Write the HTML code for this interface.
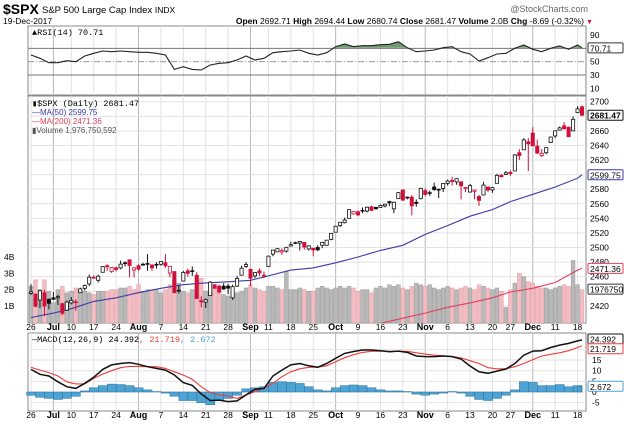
<!DOCTYPE html>
<html><head><meta charset="utf-8"><style>
html,body{margin:0;padding:0;background:#fff;}
svg{display:block;font-family:"Liberation Sans",sans-serif;}
</style></head><body>
<svg id="chart" width="624" height="424" viewBox="0 0 624 424" xmlns="http://www.w3.org/2000/svg">
<defs>
<clipPath id="pclip"><rect x="28" y="96" width="558" height="227"/></clipPath>
<clipPath id="rclip"><rect x="28" y="26" width="558" height="69"/></clipPath>
<clipPath id="above70"><rect x="28" y="26" width="558" height="21.7"/></clipPath>
</defs>
<text x="3" y="14" font-size="14" font-weight="bold">$SPX</text>
<text x="42" y="13" font-size="9.5">S&amp;P 500 Large Cap Index <tspan font-size="8.5">INDX</tspan></text>
<text x="588" y="12" font-size="9" fill="#666" text-anchor="end">@StockCharts.com</text>
<text x="3" y="24" font-size="8.5">19-Dec-2017</text>
<text x="584" y="24" font-size="8.5" text-anchor="end"><tspan font-weight="bold">Open</tspan> 2692.71 <tspan font-weight="bold">High</tspan> 2694.44 <tspan font-weight="bold">Low</tspan> 2680.74 <tspan font-weight="bold">Close</tspan> 2681.47 <tspan font-weight="bold">Volume</tspan> 2.0B <tspan font-weight="bold">Chg</tspan> -8.69 (-0.32%)</text>
<text x="586" y="24" font-size="7" fill="#d0103a">▼</text>
<g id="rsi"></g>
<g id="price"></g>
<g id="macd"></g>
<g id="axes"></g>
</svg>
<script>
const opens=[2437,2436,2428,2438,2429,2431,2431,2423,2414,2424,2425,2438,2444,2450,2459,2455,2466,2475,2467,2472,2472,2479,2483,2469,2475,2477,2478,2476,2476,2477,2479,2465,2467,2441,2454,2468,2468,2462,2427,2425,2434,2449,2447,2447,2447,2431,2447,2462,2474,2470,2461,2468,2462,2474,2491,2494,2494,2495,2502,2506,2506,2507,2498,2499,2500,2503,2503,2511,2521,2530,2534,2540,2546,2549,2551,2550,2556,2555,2555,2557,2563,2553,2567,2579,2568,2569,2562,2567,2578,2575,2583,2579,2581,2588,2592,2590,2590,2581,2576,2577,2570,2572,2583,2579,2588,2599,2600,2603,2605,2630,2634,2645,2657,2639,2626,2630,2644,2653,2661,2667,2665,2660,2685,2693];
const highs=[2450,2437,2442,2442,2430,2439,2435,2424,2427,2432,2429,2445,2449,2463,2462,2463,2474,2477,2473,2474,2482,2481,2484,2473,2477,2479,2491,2477,2480,2481,2491,2475,2467,2448,2468,2471,2474,2466,2433,2430,2454,2449,2449,2451,2450,2449,2461,2475,2480,2471,2466,2471,2467,2489,2497,2499,2499,2501,2508,2508,2509,2507,2503,2499,2503,2508,2510,2520,2530,2535,2541,2552,2549,2551,2555,2556,2557,2556,2559,2560,2564,2563,2576,2579,2570,2572,2566,2582,2581,2578,2589,2581,2588,2593,2597,2595,2591,2583,2587,2579,2572,2590,2583,2583,2601,2601,2605,2606,2628,2635,2650,2650,2665,2648,2635,2637,2652,2661,2666,2672,2666,2680,2694,2695];
const lows=[2435,2418,2417,2406,2415,2428,2421,2407,2413,2422,2413,2438,2441,2447,2457,2452,2466,2468,2465,2467,2470,2474,2459,2459,2468,2475,2468,2468,2471,2475,2472,2459,2437,2437,2454,2460,2461,2430,2418,2417,2434,2444,2437,2442,2436,2428,2446,2462,2472,2447,2458,2461,2458,2474,2488,2494,2490,2493,2502,2505,2496,2497,2496,2488,2495,2499,2503,2510,2521,2528,2533,2540,2545,2543,2547,2548,2550,2552,2555,2555,2557,2547,2567,2564,2566,2544,2556,2566,2571,2571,2578,2568,2576,2585,2585,2586,2566,2576,2576,2566,2557,2572,2576,2575,2588,2596,2600,2598,2605,2620,2634,2605,2639,2628,2624,2628,2644,2650,2661,2662,2652,2660,2686,2680];
const closes=[2439.07,2419.38,2440.69,2419.70,2423.41,2429.01,2432.54,2409.75,2425.18,2427.43,2425.53,2443.25,2447.83,2459.27,2459.14,2460.61,2473.83,2473.45,2472.54,2469.91,2477.13,2477.83,2475.42,2472.10,2470.30,2476.35,2477.57,2472.16,2476.83,2480.91,2474.92,2474.02,2438.21,2441.32,2465.84,2464.61,2468.11,2430.01,2425.55,2428.37,2452.51,2444.04,2438.97,2443.05,2444.24,2446.30,2457.59,2471.65,2476.55,2457.85,2465.54,2465.10,2461.43,2488.11,2496.48,2498.37,2495.62,2500.23,2503.87,2506.65,2508.24,2500.60,2502.22,2496.66,2496.84,2507.04,2510.06,2519.36,2529.12,2534.58,2537.74,2552.07,2549.33,2544.73,2550.64,2555.24,2550.93,2553.17,2557.64,2559.36,2561.26,2562.10,2575.21,2564.98,2569.13,2557.15,2560.40,2581.07,2572.83,2575.26,2579.36,2579.85,2587.84,2591.13,2590.64,2594.38,2584.62,2582.30,2584.84,2578.87,2564.62,2585.64,2578.85,2582.14,2599.03,2597.08,2602.42,2601.42,2627.04,2626.07,2647.58,2642.22,2639.44,2629.57,2629.27,2636.98,2651.50,2659.99,2664.11,2662.85,2652.01,2675.81,2690.16,2681.47];
const volumes=[2.2,2.6,2.0,2.6,1.9,1.2,2.0,2.2,1.8,1.9,2.1,2.0,1.9,1.8,1.7,1.9,1.9,1.9,2.0,2.0,2.1,2.1,2.2,2.0,2.3,1.9,2.0,2.0,2.0,1.8,2.0,2.3,2.6,2.4,1.9,1.8,2.0,2.6,2.7,1.9,1.9,2.1,1.9,1.7,1.6,1.8,1.8,1.9,2.1,2.3,2.1,2.0,1.9,2.2,2.2,2.1,2.0,3.1,2.0,2.0,2.1,2.0,1.9,1.9,2.1,2.2,2.1,2.0,2.1,2.2,2.1,2.2,2.1,1.9,2.0,2.0,1.8,2.1,2.2,2.1,2.3,2.2,2.3,2.1,2.0,2.2,2.4,2.3,2.2,2.3,2.1,2.0,2.1,2.2,2.1,2.0,2.1,2.2,2.1,2.0,2.3,2.2,2.1,2.0,2.1,1.9,0.9,2.0,2.4,3.0,2.8,2.5,2.4,2.2,2.1,2.1,2.0,2.1,2.2,2.3,2.2,3.8,2.3,2.0];
const maDays=[0,5,9,14,19,24,29,34,39,44,49,53,58,63,68,73,78,83,88,93,98,103,107,112,117,122,123];
const ma50=[2404,2410,2416,2426,2431,2438,2444,2449,2451.5,2453,2455,2461,2469,2472,2479,2487,2496,2503,2518,2530,2543,2552,2563,2573,2583,2595,2599.75];
const ma200=[2350,2354,2357,2360,2363,2366,2369,2372,2375,2378,2381,2384,2386,2388,2390,2393,2396,2403,2410,2418,2424,2431,2439,2444,2452,2469,2471.36];
const rsi=[60,55,48.5,48.5,51.5,50,58.5,62.5,66,65,66,65,64,64,62.5,60,38.5,42.5,38.5,37.5,45,47.5,48.5,52.5,58.5,52.5,55,63.5,65,66,67.5,62.5,60,63.5,72.5,76.5,72.5,74,74,75.5,76,80,71,65,66,67.5,71,72.5,65,61.5,51,56,61.5,62.5,70,75,68.5,65,70,73.5,68.5,75,70.71];
const macdLine=[10.6,8.3,7.5,4.8,2.5,1.7,4.1,6.9,10.6,12.7,13.4,13.8,13,11.9,11.1,10.3,8,4.4,3.1,-0.9,-4,-3.8,-4.5,-4.2,-1.4,1.3,1.7,7.5,10.3,12.7,13.4,12.3,11.6,13.4,15.8,18.1,19,19.7,19.7,19.4,18.9,19.2,18.6,16.9,16.6,16.6,16.9,16.6,15.5,12.2,9.5,8.8,9.8,10.8,13.4,17.3,19.2,19.4,20.9,22,22.8,24,24.392];
const signalLine=[11.6,10.3,9.1,7.5,4.8,3.8,3.8,6.4,8.4,10,11.4,12,12,11.9,11.9,11.1,9.5,8,5.9,2.5,-0.3,-1.4,-1.9,-3,-1.4,0.2,2,4.1,7.2,9.5,10.9,11.6,11.7,12.3,14.2,16.1,17.5,18.6,19.1,19.2,19.1,19.1,19.1,18.4,17.8,17.3,17,16.7,16,14.7,13.4,11.4,10.9,10.9,11.9,13.4,15.2,16.9,17.7,18.4,19.4,20.9,21.719];
const hist=[-1.5,-2.5,-3,-3.5,-3,-2,0.5,2,3,3.7,3.5,3,2,1,0.2,-0.5,-2,-4,-4,-5,-6,-4,-3,-1.5,1.5,2,2.5,4.5,4.8,4.5,4,2.5,1,0.5,2,3,3.3,3,2,1,0.5,0.5,0.2,-1,-1.5,-1,-0.5,0.2,-0.5,-2,-3.5,-4,-3,-1.5,1,4.8,4.5,3,3,3.5,2.5,3,2.672];
const priceTicks=[2700,2680,2660,2640,2620,2600,2580,2560,2540,2520,2500,2480,2460,2440,2420];
const volTicks=[4,3,2,1];
const rsiTicks=[90,50,30,10];
const macdTicks=[20,15,10,5,0,-5];
const dateTicks=[[0,'26',0],[5,'Jul',1],[9,'10',0],[14,'17',0],[19,'24',0],[24,'Aug',1],[29,'7',0],[34,'14',0],[39,'21',0],[44,'28',0],[49,'Sep',1],[53,'11',0],[58,'18',0],[63,'25',0],[68,'Oct',1],[73,'9',0],[78,'16',0],[83,'23',0],[88,'Nov',1],[93,'6',0],[98,'13',0],[103,'20',0],[107,'27',0],[112,'Dec',1],[117,'11',0],[122,'18',0]];

const NS='http://www.w3.org/2000/svg';
const xDay=i=>31+i*4.48;
const x2=k=>k===rsi.length-1?xDay(123):xDay(2*k);
const yP=v=>101.7+(2700-v)*0.729;
const yV=v=>322-v*16.2;
const yR=v=>35+(90-v)*0.667;
const yM=v=>392-v*2.13;
function mk(parent,tag,attrs){const e=document.createElementNS(NS,tag);for(const k in attrs)e.setAttribute(k,attrs[k]);parent.appendChild(e);return e;}
function txt(parent,x,y,s,attrs){const e=mk(parent,'text',Object.assign({x:x,y:y,'font-size':8.5},attrs||{}));e.textContent=s;return e;}

const R=document.getElementById('rsi'),P=document.getElementById('price'),M=document.getElementById('macd'),A=document.getElementById('axes');
const panels=[[R,26,69],[P,96,227],[M,333,78]];
panels.forEach(([g,y,h])=>{
  const bg=mk(g,'rect',{x:28,y:y,width:558,height:h,fill:'#fff',stroke:'#888','stroke-width':1});
  
  
  dateTicks.forEach(t=>{
    const l=mk(g,'line',{x1:xDay(t[0]),x2:xDay(t[0]),y1:y,y2:y+h,stroke:t[2]?'#b8b8b8':'#e2e2e2','stroke-width':1});
    
    
  });
});

// RSI
[70,30].forEach(v=>{const l=mk(R,'line',{x1:28,x2:586,y1:yR(v),y2:yR(v),stroke:'#777'});});
{const l=mk(R,'line',{x1:28,x2:586,y1:yR(50),y2:yR(50),stroke:'#999','stroke-dasharray':'6,2,1,2'});}
let rp=rsi.map((v,k)=>x2(k).toFixed(1)+','+yR(v).toFixed(1));
{const f=mk(R,'polygon',{points:x2(0)+','+yR(70)+' '+rp.join(' ')+' '+x2(rsi.length-1)+','+yR(70),fill:'#6f9a6f','clip-path':'url(#above70)'});}
{const l=mk(R,'polyline',{points:rp.join(' '),fill:'none',stroke:'#222','stroke-width':1.1});}
{const t=txt(R,32,35,'▲RSI(14) 70.71',{'font-size':8.5,'font-family':'Liberation Mono, monospace'});}
rsiTicks.forEach(v=>{const t=txt(R,590,yR(v)+3,String(v),{'font-size':8.5});});

function tag(g,y,s,col,bold,name){
  const r=mk(g,'rect',{x:588,y:y-5,width:35,height:10,fill:'#fff',stroke:col,'stroke-width':1,rx:1});
  
  
  const t=txt(g,590,y+3.5,s,{'font-size':8.5,'font-weight':bold?'bold':'normal'});
  
  
}
tag(R,yR(70.71),'70.71','#333',false,'rsi-value-tag');

// price grid
priceTicks.forEach(v=>{
  const l=mk(P,'line',{x1:28,x2:586,y1:yP(v),y2:yP(v),stroke:'#e2e2e2'});
  
  
  const t=txt(P,590,yP(v)+3,String(v),{'font-size':8.5});
  
  
});
volTicks.forEach(v=>{const t=txt(P,4,yV(v)+3,v+'B',{'font-size':8.5});});
const PG=mk(P,'g',{'clip-path':'url(#pclip)'});
// volume
volumes.forEach((v,i)=>{
  const up=i===0?true:closes[i]>=closes[i-1];
  const b=mk(PG,'rect',{x:xDay(i)-1.9,y:yV(v),width:3.8,height:322-yV(v)+1,fill:up?'#b9b9b9':'#f2bcc2',stroke:up?'#9a9a9a':'#e3a0a8','stroke-width':0.5});
  
  
});
// MAs
function line(g,xs,vals,fy,col,name,w){const l=mk(g,'polyline',{points:vals.map((v,k)=>xs(k).toFixed(1)+','+fy(v).toFixed(1)).join(' '),fill:'none',stroke:col,'stroke-width':w||1.1});}
line(PG,k=>xDay(maDays[k]),ma200,yP,'#e0405a','ma200-line');
line(PG,k=>xDay(maDays[k]),ma50,yP,'#3b3ba8','ma50-line');
// candles
closes.forEach((c,i)=>{
  const o=opens[i];const up=i===0?true:c>=closes[i-1];const col=up?'#111':'#d0103a';
  const x=xDay(i);
  const w=mk(PG,'line',{x1:x,x2:x,y1:yP(highs[i]),y2:yP(lows[i]),stroke:col,'stroke-width':1});
  
  
  const top=yP(Math.max(o,c)),bot=yP(Math.min(o,c));
  const b=mk(PG,'rect',{x:x-1.6,y:top,width:3.2,height:Math.max(0.8,bot-top),fill:c>o?'#fff':col,stroke:col,'stroke-width':0.8});
  
  
});
{const g=mk(P,'g',{'font-size':8.5});
 txt(g,32,106,'▮$SPX (Daily) 2681.47',{'font-family':'Liberation Mono, monospace','font-size':8.5});
 txt(g,32,115,'—MA(50) 2599.75',{fill:'#3b3ba8','font-size':8});
 txt(g,32,124,'—MA(200) 2471.36',{fill:'#e0405a','font-size':8});
 txt(g,32,133,'▮Volume 1,976,750,592',{fill:'#555','font-size':8});}
tag(P,yP(2681.47),'2681.47','#111',true,'last-price-tag');
tag(P,yP(2599.75),'2599.75','#3b3ba8',false,'ma50-tag');
tag(P,yP(2471.36),'2471.36','#e0405a',false,'ma200-tag');
tag(P,yV(2.03),'1976750','#333',false,'volume-tag');

// MACD
macdTicks.forEach(v=>{
  const l=mk(M,'line',{x1:28,x2:586,y1:yM(v),y2:yM(v),stroke:'#e2e2e2'});
  
  
  const t=txt(M,592,yM(v)+3,String(v),{'font-size':8.5});
  
  
});
hist.forEach((v,k)=>{
  const x=x2(k);const y0=yM(0),y1=yM(v);
  const b=mk(M,'rect',{x:x-4.4,y:Math.min(y0,y1),width:k===hist.length-1?4:8.96,height:Math.abs(y1-y0),fill:'#4da3d4',stroke:'#2d6f98','stroke-width':0.5});
  
  
});
line(M,x2,signalLine,yM,'#ee3b3b','macd-signal-line',1.1);
line(M,x2,macdLine,yM,'#111','macd-line',1.5);
{const g=mk(M,'g',{});
 const t=txt(g,32,342,'',{'font-size':8.5,'font-family':'Liberation Mono, monospace'});
 t.innerHTML='<tspan>—MACD(12,26,9) 24.392</tspan><tspan fill="#ee3b3b">, 21.719</tspan><tspan fill="#4da3d4">, 2.672</tspan>';}
tag(M,yM(24.392)-1,'24.392','#111',false,'macd-tag');
tag(M,yM(21.719)+3,'21.719','#ee3b3b',false,'signal-tag');
tag(M,yM(2.672),'2.672','#4da3d4',false,'histogram-tag');

// date axes
[330,418].forEach((y,ai)=>{
  dateTicks.forEach(t=>{
    const e=txt(A,xDay(t[0]),y,t[1],{'font-size':t[2]?9:8.5,'font-weight':t[2]?'bold':'normal','text-anchor':'middle'});
    
    
  });
});
</script>
</body></html>
